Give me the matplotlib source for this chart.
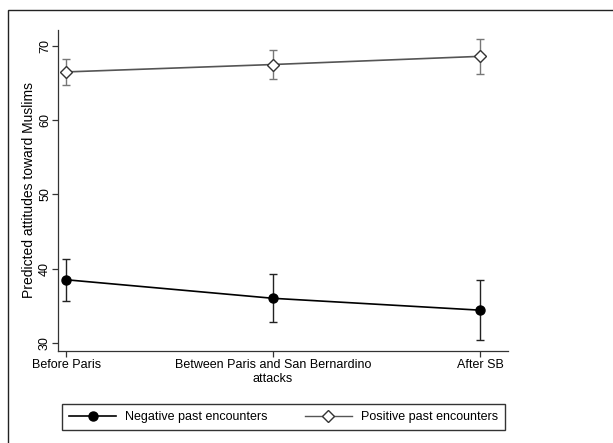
import numpy as np
import matplotlib
matplotlib.use("Agg")
import matplotlib.pyplot as plt
from matplotlib.patches import Rectangle
from matplotlib.lines import Line2D

plt.rcParams['font.family'] = ['Liberation Sans', 'DejaVu Sans']
plt.rcParams['font.size'] = 9

periods = ["Before Paris", "Between Paris and San Bernardino\nattacks", "After SB"]

neg_mean = [38.5, 36.0, 34.4]
neg_lo = [35.7, 32.8, 30.4]
neg_hi = [41.3, 39.3, 38.4]

pos_mean = [66.5, 67.5, 68.6]
pos_lo = [64.7, 65.5, 66.2]
pos_hi = [68.3, 69.5, 71.0]

W, H = 613, 443
fig = plt.figure(figsize=(W / 100, H / 100), dpi=100)
ax = fig.add_axes([58 / W, 1 - 351 / H, 450 / W, 321 / H])

x = np.arange(len(periods))


def yerr(mean, lo, hi):
    m = np.asarray(mean)
    return np.vstack([m - np.asarray(lo), np.asarray(hi) - m])


ax.errorbar(x, neg_mean, yerr=yerr(neg_mean, neg_lo, neg_hi), color="black",
            ecolor="#222222", elinewidth=1.0, capsize=3, capthick=1.0,
            marker="o", markersize=6.5, linewidth=1.2)
ax.errorbar(x, pos_mean, yerr=yerr(pos_mean, pos_lo, pos_hi), color="#555555",
            ecolor="#777777", elinewidth=1.0, capsize=3, capthick=1.0,
            marker="D", markersize=6, markerfacecolor="white",
            markeredgecolor="#333333", markeredgewidth=1.0, linewidth=1.2)

ax.set_xlim(-0.039, 2.135)
ax.set_ylim(28.9, 72.15)
ax.set_xticks(x)
ax.set_xticklabels(periods)
ax.set_yticks([30, 40, 50, 60, 70])
for lab in ax.get_yticklabels():
    lab.set_rotation(90)
    lab.set_va("center")
ax.set_ylabel("Predicted attitudes toward Muslims", labelpad=2, fontsize=10)
for s in ("top", "right"):
    ax.spines[s].set_visible(False)
for s in ("left", "bottom"):
    ax.spines[s].set_linewidth(0.9)
    ax.spines[s].set_color("#333333")
ax.tick_params(direction="out", length=4, width=0.9, color="#333333", pad=2)
ax.tick_params(axis="y", pad=1)

handles = [
    Line2D([], [], color="black", marker="o", markersize=6.5, linewidth=1.2),
    Line2D([], [], color="#555555", marker="D", markersize=6,
           markerfacecolor="white", markeredgecolor="#333333", linewidth=1.0),
]
fig.legend(handles, ["Negative past encounters", "Positive past encounters"],
           loc="center", bbox_to_anchor=(62 / W, 1 - 431 / H, 443 / W, 28 / H),
           mode="expand", ncol=2, handlelength=3.8, handletextpad=0.7,
           borderpad=0.55, fancybox=False, edgecolor="#333333", framealpha=1,
           borderaxespad=0, fontsize=9)

fig.add_artist(Rectangle((8 / W, -0.1), 1.2, 1.1 - 10 / H, transform=fig.transFigure,
                         fill=False, edgecolor="#222222", linewidth=1.0))

fig.savefig("out.png", dpi=100)
